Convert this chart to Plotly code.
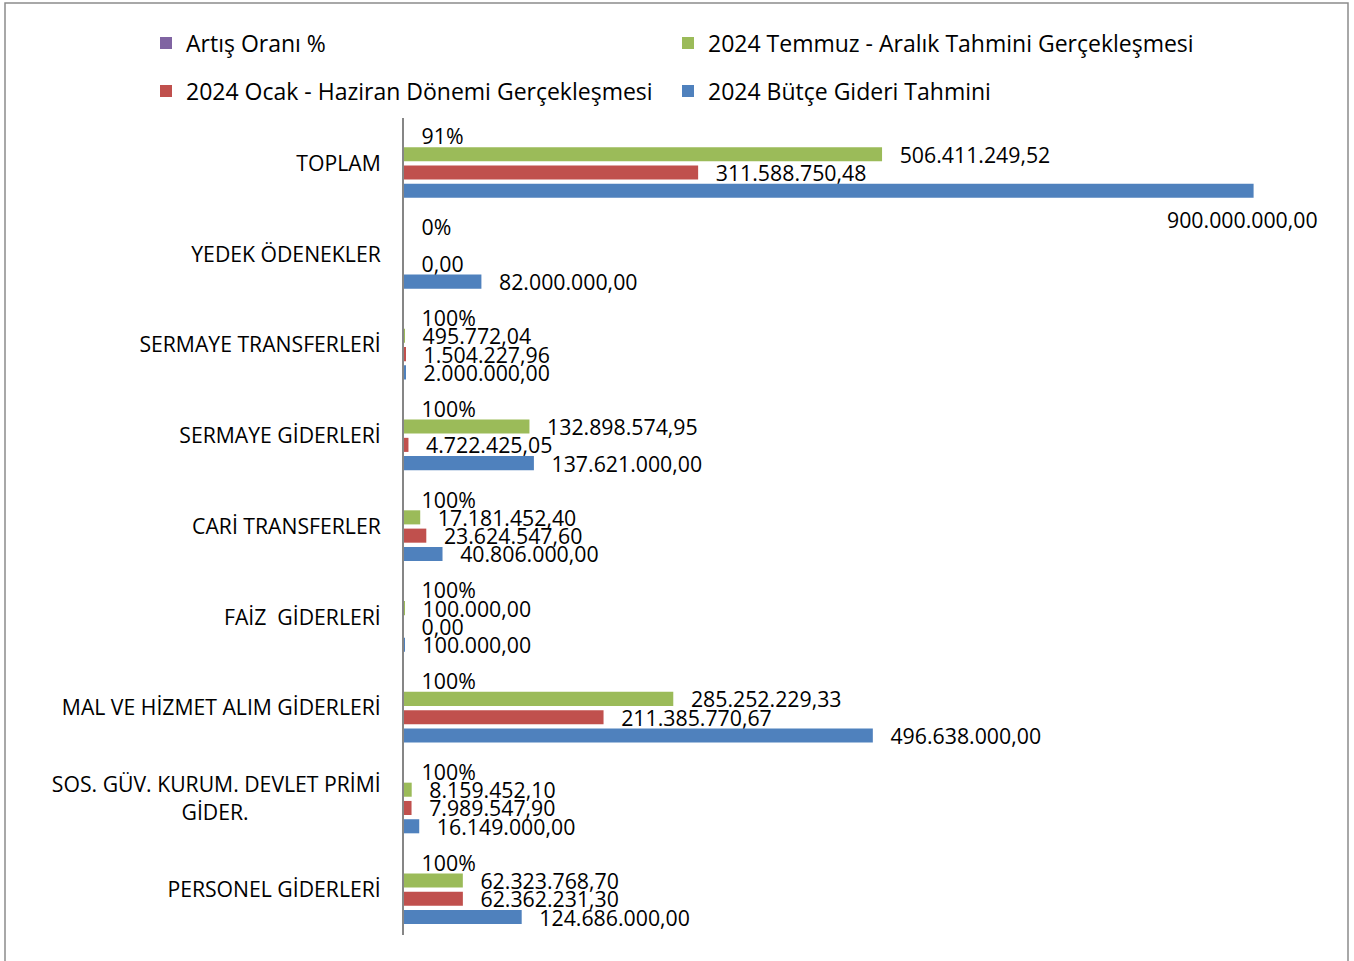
import plotly.graph_objects as go

# ---------------- data ----------------
categories = ["TOPLAM", "YEDEK ÖDENEKLER", "SERMAYE TRANSFERLERİ", "SERMAYE GİDERLERİ",
              "CARİ TRANSFERLER", "FAİZ  GİDERLERİ", "MAL VE HİZMET ALIM GİDERLERİ",
              "SOS. GÜV. KURUM. DEVLET PRİMİ GİDER.", "PERSONEL GİDERLERİ"]
artis_orani = [0.91, 0.0, 1.0, 1.0, 1.0, 1.0, 1.0, 1.0, 1.0]
temmuz_aralik = [506411249.52, None, 495772.04, 132898574.95, 17181452.40,
                 100000.00, 285252229.33, 8159452.10, 62323768.70]
ocak_haziran = [311588750.48, 0.00, 1504227.96, 4722425.05, 23624547.60,
                0.00, 211385770.67, 7989547.90, 62362231.30]
butce = [900000000.00, 82000000.00, 2000000.00, 137621000.00, 40806000.00,
         100000.00, 496638000.00, 16149000.00, 124686000.00]

series_names = ["Artış Oranı %", "2024 Temmuz - Aralık Tahmini Gerçekleşmesi",
                "2024 Ocak - Haziran Dönemi Gerçekleşmesi", "2024 Bütçe Gideri Tahmini"]
colors = ["#8064A2", "#9BBB59", "#C0504D", "#4F81BD"]

FONT = "Open Sans"
FS_LABEL = 21.3
FS_TICK = 21.2
FS_LEG = 23
PAD = "\u00a0\u00a0\u2009"


def tr_num(v):
    if v is None:
        return ""
    s = f"{v:,.2f}"
    return s.replace(",", "X").replace(".", ",").replace("X", ".")


def pct(v):
    return f"{v * 100:.0f}%"


fig = go.Figure()

legend_ids = ["legend", "legend2", "legend3", "legend4"]
series_vals = [artis_orani, temmuz_aralik, ocak_haziran, butce]
for i, (name, vals, col) in enumerate(zip(series_names, series_vals, colors)):
    if i == 0:
        texts = [PAD + pct(v) for v in vals]
    else:
        texts = [(PAD + tr_num(v)) if v is not None else "" for v in vals]
    if i == 3:
        texts[0] = ""  # TOPLAM budget label placed separately (below bar)
    fig.add_trace(go.Bar(
        y=categories, x=vals, name=name, orientation="h",
        marker=dict(color=col, line=dict(width=0)),
        text=texts, textposition="outside", constraintext="none",
        cliponaxis=False,
        textfont=dict(family=FONT, size=FS_LABEL, color="#000000"),
        legend=legend_ids[i],
        hoverinfo="skip",
    ))

# TOPLAM budget label (drawn below the bar end, as in the source)
fig.add_annotation(x=butce[0], y=categories[0], text=tr_num(butce[0]),
                   xanchor="right", yanchor="middle", xshift=66, yshift=-56,
                   showarrow=False, font=dict(family=FONT, size=FS_LABEL, color="#000000"))

ticktext = [c for c in categories]
ticktext[7] = "SOS. GÜV. KURUM. DEVLET PRİMİ<br>GİDER." + "\u00a0" * 24


def leg(px_x, px_y):
    return dict(orientation="v", xanchor="left", yanchor="middle",
                x=(px_x - 404) / 944, y=(935 - px_y) / 817,
                itemwidth=30, bgcolor="rgba(0,0,0,0)", borderwidth=0,
                font=dict(family=FONT, size=FS_LEG, color="#000000"))


fig.update_layout(
    width=1354, height=961,
    margin=dict(l=404, r=6, t=118, b=26, autoexpand=False),
    paper_bgcolor="white", plot_bgcolor="white",
    barmode="group", bargap=0.194, bargroupgap=0.23,
    font=dict(family=FONT, size=FS_LABEL, color="#000000"),
    showlegend=True,
    legend=leg(146, 43),
    legend2=leg(668, 43),
    legend3=leg(146, 91),
    legend4=leg(668, 91),
    xaxis=dict(range=[0, 1.0e9], visible=False, fixedrange=True),
    yaxis=dict(type="category", autorange=False, range=[len(categories) - 0.5, -0.5],
               tickmode="array", tickvals=categories, ticktext=ticktext,
               showline=True, linecolor="#868686", linewidth=2,
               ticks="", ticklabelstandoff=17, showgrid=False, zeroline=False,
               fixedrange=True,
               tickfont=dict(family=FONT, size=FS_TICK, color="#000000")),
)

# outer chart border
fig.add_shape(type="rect", xref="paper", yref="paper",
              x0=(5 - 404) / 944, x1=(1348 - 404) / 944,
              y0=(935 - 980) / 817, y1=(935 - 3) / 817,
              line=dict(color="#8c8c8c", width=1.5), fillcolor="rgba(0,0,0,0)",
              layer="below")

fig.write_html("out.html", config={"displayModeBar": False},
               post_script="document.body.style.margin='0px';"
                           "document.body.style.overflow='hidden';")
